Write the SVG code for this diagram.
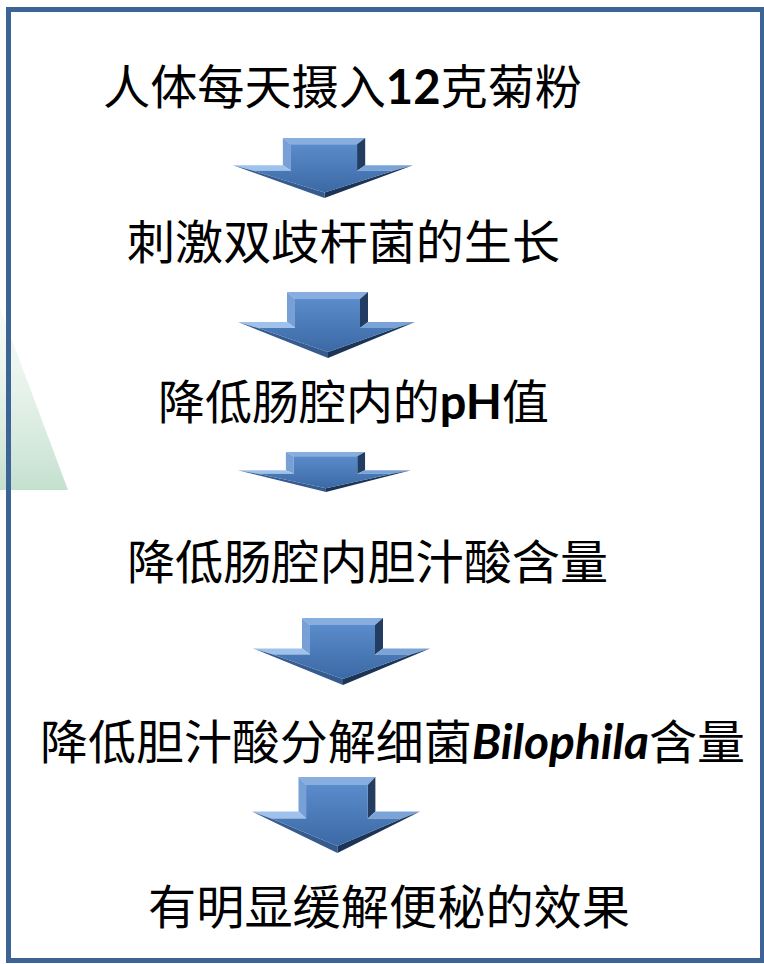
<svg xmlns="http://www.w3.org/2000/svg" width="764" height="964" viewBox="0 0 764 964">
<style>
.t{font-family:"Noto Sans CJK SC","Noto Sans",sans-serif;font-size:47px;fill:#000}
.lat{font-family:Lato,"Liberation Sans",sans-serif;font-weight:bold}
.it{font-style:italic}
</style>
<defs>
<linearGradient id="face" x1="0" y1="0" x2="0" y2="1">
<stop offset="0" stop-color="#5A8BCA"/><stop offset="1" stop-color="#3B69A5"/>
</linearGradient>
<linearGradient id="green" x1="0" y1="0" x2="0" y2="1">
<stop offset="0" stop-color="#E6F2EA" stop-opacity="0.3"/><stop offset="1" stop-color="#C4E0CF"/>
</linearGradient>
<symbol id="arrow" viewBox="0 0 177 66" preserveAspectRatio="none">
<polygon points="49,0 130,0 122,7 57,7" fill="#88AEE0"/>
<polygon points="49,0 57,7 57,36 49,30" fill="#76A0D6"/>
<polygon points="130,0 130,30 122,36 122,7" fill="#223C62"/>
<polygon points="130,30 177,30 158,36 122,36" fill="#7AA3D8"/>
<polygon points="49,30 0,30 20,36 57,36" fill="#9EC2EC"/>
<polygon points="177,30 90,66 90,60 158,36" fill="#1C3455"/>
<polygon points="0,30 90,66 90,60 20,36" fill="#365B8E"/>
<polygon points="57,7 122,7 122,36 158,36 90,60 20,36 57,36" fill="url(#face)"/>
</symbol>
</defs>
<rect width="764" height="964" fill="#fff"/>
<polygon points="0,308 0,490 68,490" fill="url(#green)"/>
<rect x="8.5" y="9.5" width="754" height="951" fill="none" stroke="#3C6494" stroke-width="5"/>
<g id="connectors">
<use href="#arrow" x="233" y="138" width="180" height="60"/>
<use href="#arrow" x="238" y="292" width="177" height="66"/>
<use href="#arrow" x="238" y="452" width="173" height="40"/>
<use href="#arrow" x="253" y="618" width="177" height="67"/>
<use href="#arrow" x="252" y="777" width="168" height="76"/>
</g>
<g id="n1"><text class="t" x="103" y="104" textLength="479" lengthAdjust="spacingAndGlyphs">人体每天摄入<tspan class="lat">12</tspan>克菊粉</text></g>
<g id="n2"><text class="t" x="127" y="259" textLength="433" lengthAdjust="spacingAndGlyphs">刺激双歧杆菌的生长</text></g>
<g id="n3"><text class="t" x="158" y="419" textLength="391" lengthAdjust="spacingAndGlyphs">降低肠腔内的<tspan class="lat">pH</tspan>值</text></g>
<g id="n4"><text class="t" x="127" y="579" textLength="481" lengthAdjust="spacingAndGlyphs">降低肠腔内胆汁酸含量</text></g>
<g id="n5"><text class="t" x="40" y="759" textLength="705" lengthAdjust="spacingAndGlyphs">降低胆汁酸分解细菌<tspan class="lat it">Bilophila</tspan>含量</text></g>
<g id="n6"><text class="t" x="148" y="924" textLength="482" lengthAdjust="spacingAndGlyphs">有明显缓解便秘的效果</text></g>
</svg>
